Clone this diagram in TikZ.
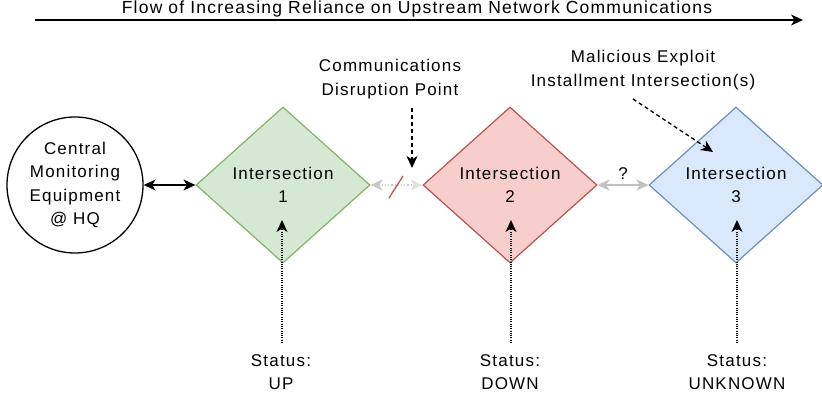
\documentclass[tikz,border=0pt]{standalone}
\usepackage{fontspec}
\setmainfont{Liberation Sans}[LetterSpace=7]
\usetikzlibrary{shapes.geometric,arrows.meta}
\definecolor{gfill}{HTML}{D5E8D4}
\definecolor{gline}{HTML}{82B366}
\definecolor{rfill}{HTML}{F8CECC}
\definecolor{rline}{HTML}{B85450}
\definecolor{bfill}{HTML}{DAE8FC}
\definecolor{bline}{HTML}{6C8EBF}
\definecolor{lgray}{HTML}{C8C8C8}
\definecolor{llgray}{HTML}{E0E0E0}
\definecolor{mgray}{HTML}{C0C0C0}
\tikzset{
  tip/.tip={Stealth[length=12pt,width=11pt,inset=3.5pt]},
  isect/.style={diamond, draw, line width=1.2pt, minimum width=174pt, minimum height=156pt, inner sep=0pt, align=center},
  lbl/.style={align=center, inner sep=0pt},
  dashedarrow/.style={-tip, line width=1.3pt, dash pattern=on 4pt off 3pt},
  dottedarrow/.style={-tip, line width=1.3pt, dash pattern=on 1pt off 1.3pt},
}
\begin{document}
\begin{tikzpicture}[x=1pt,y=-1pt,font=\fontsize{17}{23.5}\selectfont]
\useasboundingbox (0,0) rectangle (822,394);
% top flow arrow
\node[lbl, font=\fontsize{17.5}{22}\selectfont] (flow) at (417,9) {Flow of Increasing Reliance on Upstream Network Communications};
\coordinate (fs) at (35,20);
\coordinate (fe) at (803,20);
\draw[-tip, line width=1.3pt] (fs) -- (fe);
% HQ circle
\node[circle, draw, line width=1.3pt, minimum size=136pt, inner sep=0pt, align=center] (hq) at (75,185) {Central\\Monitoring\\Equipment\\@ HQ};
% intersections
\node[isect, fill=gfill, draw=gline] (d1) at (283,185) {Intersection\\1};
\node[isect, fill=rfill, draw=rline] (d2) at (510,185) {Intersection\\2};
\node[isect, fill=bfill, draw=bline] (d3) at (736,185) {Intersection\\3};
% connectors
\draw[tip-tip, line width=1.4pt] (hq) -- (d1);
\draw[{Stealth[length=12pt,width=11pt,inset=3.5pt,color=lgray]}-{Stealth[length=12pt,width=11pt,inset=3.5pt,color=llgray]}, draw=lgray, line width=1.3pt, dash pattern=on 1.2pt off 2pt] (d1) -- (d2);
\coordinate (sl1) at (389,198);
\coordinate (sl2) at (403,176);
\draw[rline, line width=1.3pt] (sl1) -- (sl2);
\draw[tip-tip, draw=mgray, line width=1.6pt] (d2) -- node[above=5pt, text=black, inner sep=0pt] (q) {?} (d3);
% disruption label
\node[lbl] (disr) at (390,79) {Communications\\Disruption Point};
\coordinate (da) at (412,108);
\coordinate (db) at (412,168);
\draw[dashedarrow] (da) -- (db);
% malicious label
\node[lbl] (mal) at (643,70) {Malicious Exploit\\Installment Intersection(s)};
\coordinate (ma) at (633,99);
\coordinate (mb) at (713,152);
\draw[dashedarrow] (ma) -- (mb);
% status labels
\node[lbl] (s1) at (281,372) {Status:\\UP};
\node[lbl] (s2) at (510,372) {Status:\\DOWN};
\node[lbl] (s3) at (737,372) {Status:\\UNKNOWN};
\coordinate (s1a) at (282,343);
\coordinate (s1b) at (282,220);
\coordinate (s2a) at (511,343);
\coordinate (s2b) at (511,220);
\coordinate (s3a) at (737,343);
\coordinate (s3b) at (737,220);
\draw[dottedarrow] (s1a) -- (s1b);
\draw[dottedarrow] (s2a) -- (s2b);
\draw[dottedarrow] (s3a) -- (s3b);
\end{tikzpicture}
\end{document}
